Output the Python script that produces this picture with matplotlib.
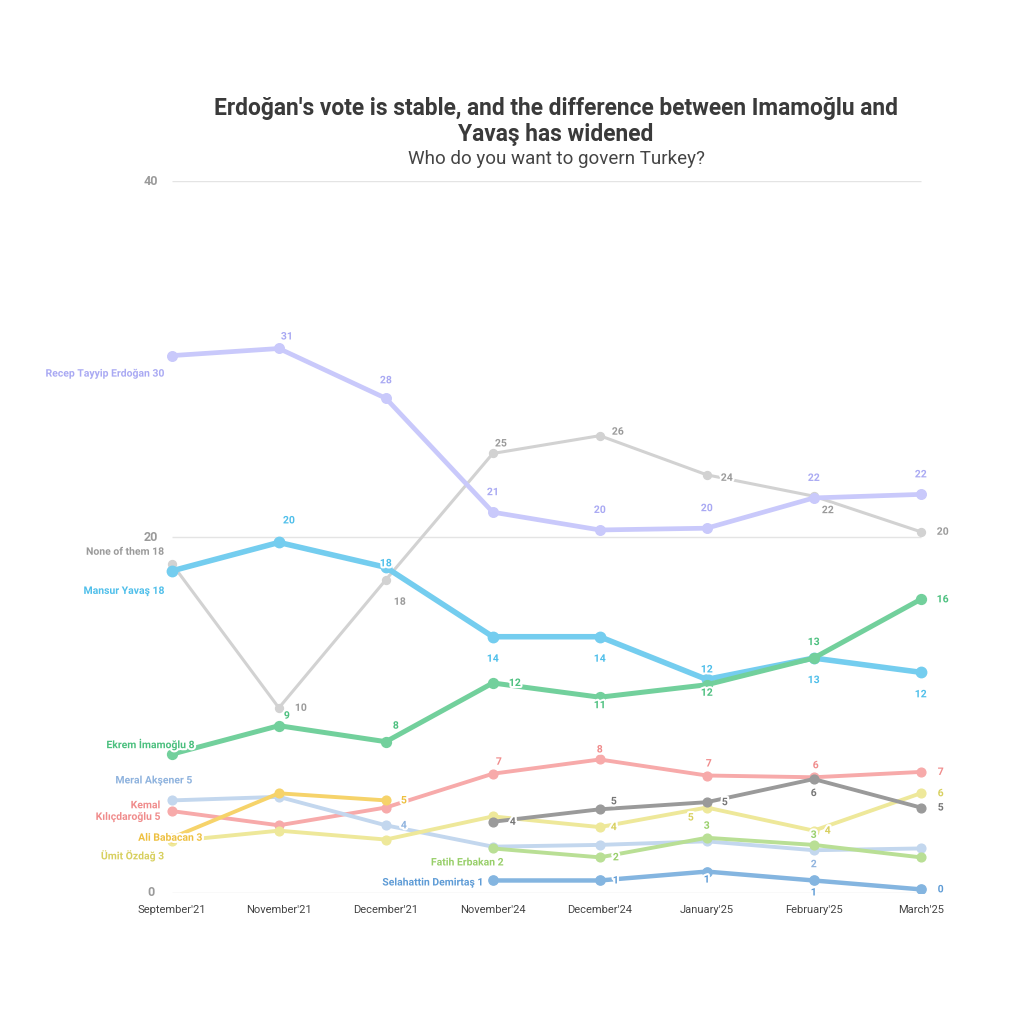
import numpy as np
import matplotlib
matplotlib.use("Agg")
import matplotlib.pyplot as plt
import matplotlib.patheffects as pe

plt.rcParams['font.family'] = ['Roboto', 'DejaVu Sans']

# x categories
months = ["September'21", "November'21", "December'21", "November'24",
          "December'24", "January'25", "February'25", "March'25"]
nan = np.nan

# series values (percent)
erdogan = [30.2, 30.6, 27.8, 21.4, 20.4, 20.5, 22.2, 22.4]
none_of_them = [18.5, 10.4, 17.6, 24.7, 25.7, 23.5, 22.3, 20.3]
yavas = [18.1, 19.7, 18.3, 14.4, 14.4, 12.0, 13.2, 12.4]
imamoglu = [7.8, 9.4, 8.5, 11.8, 11.0, 11.7, 13.2, 16.5]
aksener = [5.2, 5.4, 3.8, 2.6, 2.7, 2.9, 2.4, 2.5]
kilicdaroglu = [4.6, 3.8, 4.8, 6.7, 7.5, 6.6, 6.5, 6.8]
babacan = [3.1, 5.6, 5.2, nan, nan, nan, nan, nan]
ozdag = [2.9, 3.5, 3.0, 4.3, 3.7, 4.8, 3.5, 5.6]
ozel = [nan, nan, nan, 4.0, 4.7, 5.1, 6.4, 4.8]
erbakan = [nan, nan, nan, 2.5, 2.0, 3.1, 2.7, 2.0]
demirtas = [nan, nan, nan, 0.7, 0.7, 1.2, 0.7, 0.2]

# (name, values, line colour, text colour, line width)
series = [
    ("None of them", none_of_them, "#d2d2d2", "#9a9a9a", 2.2),
    ("Recep Tayyip Erdoğan", erdogan, "#c9c9fb", "#a9a9f3", 3.4),
    ("Mansur Yavaş", yavas, "#74cdef", "#4fbfea", 4.0),
    ("Ekrem İmamoğlu", imamoglu, "#72d09c", "#4cc07f", 3.6),
    ("Kemal\nKılıçdaroğlu", kilicdaroglu, "#f7aaaa", "#f08c8c", 2.8),
    ("Meral Akşener", aksener, "#c3d7ee", "#8fb3de", 2.8),
    ("Ümit Özdağ", ozdag, "#eee89a", "#d8d060", 2.8),
    ("Ali Babacan", babacan, "#f6d36a", "#eec040", 2.8),
    ("Özgür Özel", ozel, "#9a9a9a", "#777777", 2.8),
    ("Fatih Erbakan", erbakan, "#b9df95", "#98cf6a", 2.8),
    ("Selahattin Demirtaş", demirtas, "#84b5e0", "#5f9cd6", 3.2),
]

# name label placement: (x index, dx px, dy px, ha)
name_pos = {
    "None of them": (0, -8, 12, 'right'),
    "Recep Tayyip Erdoğan": (0, -8, -18, 'right'),
    "Mansur Yavaş": (0, -8, -20, 'right'),
    "Ekrem İmamoğlu": (0, 22, 10, 'right'),
    "Kemal\nKılıçdaroğlu": (0, -12, 0, 'right'),
    "Meral Akşener": (0, 20, 20, 'right'),
    "Ümit Özdağ": (0, -8, -14, 'right'),
    "Ali Babacan": (0, 30, 0, 'right'),
    "Fatih Erbakan": (3, 10, -14, 'right'),
    "Selahattin Demirtaş": (3, -10, -2, 'right'),
}

# value label offsets (dx, dy) in px per point
val_off = {
    "Recep Tayyip Erdoğan": [None, (8, 12), (0, 18), (0, 20), (0, 20), (0, 20), (0, 20), (0, 20)],
    "None of them": [None, (22, 0), (14, -22), (8, 10), (18, 4), (20, -3), (14, -14), (22, 0)],
    "Mansur Yavaş": [None, (10, 22), (0, 4), (0, -22), (0, -22), (0, 10), (0, -22), (0, -22)],
    "Ekrem İmamoğlu": [None, (8, 10), (10, 16), (22, 0), (0, -8), (0, -8), (0, 16), (22, 0)],
    "Kemal\nKılıçdaroğlu": [None, None, None, (6, 12), (0, 10), (2, 12), (2, 12), (20, 0)],
    "Meral Akşener": [None, None, (18, 0), None, None, None, (0, -14), None],
    "Ümit Özdağ": [None, None, None, None, (14, 0), (-16, -10), (14, 0), (20, 0)],
    "Ali Babacan": [None, None, (18, 0), None, None, None, None, None],
    "Özgür Özel": [None, None, None, (20, 0), (14, 8), (18, 0), (0, -14), (20, 0)],
    "Fatih Erbakan": [None, None, None, None, (16, 0), (0, 12), (0, 10), None],
    "Selahattin Demirtaş": [None, None, None, None, (16, 0), (0, -8), (0, -12), (20, 0)],
}

fig = plt.figure(figsize=(10.24, 10.24), dpi=100)
ax = fig.add_axes([0.147, 0.128, 0.773, 0.695])
x = np.arange(len(months))

halo = [pe.withStroke(linewidth=3, foreground='white')]

for y in [0, 20, 40]:
    ax.hlines(y, 0, 7, color='#e4e4e4', lw=1, zorder=0)
    ax.text(-0.2, y, str(y), ha='center', va='center', fontsize=9,
            color='#9a9a9a', fontweight='bold')

for name, vals, col, tcol, lw in series:
    v = np.array(vals, dtype=float)
    ax.plot(x, v, color=col, lw=lw, marker='o', ms=lw + 3.5,
            solid_capstyle='round', zorder=2)
    if name in name_pos:
        i, dx, dy, ha = name_pos[name]
        ax.annotate(f"{name} {round(v[i]):d}", (x[i], v[i]), xytext=(dx, dy),
                    textcoords='offset pixels', ha=ha, va='center',
                    fontsize=7.5, color=tcol, fontweight='bold',
                    path_effects=halo, annotation_clip=False, zorder=4)
    for i, off in enumerate(val_off.get(name, [])):
        if off is None or np.isnan(v[i]):
            continue
        ax.annotate(f"{round(v[i]):d}", (x[i], v[i]), xytext=off,
                    textcoords='offset pixels', ha='center', va='center',
                    fontsize=7.5, color=tcol, fontweight='bold',
                    path_effects=halo, annotation_clip=False, zorder=4)

ax.set_xlim(-0.2, 7.2)
ax.set_ylim(0, 40)
ax.set_xticks(x)
ax.set_xticklabels(months, fontsize=8, color='#444444')
ax.tick_params(axis='x', length=0, pad=9)
ax.set_yticks([])
for s in ax.spines.values():
    s.set_visible(False)

fig.text(0.543, 0.8945, "Erdoğan's vote is stable, and the difference between Imamoğlu and",
         ha='center', va='center', fontsize=16.4, fontweight='bold', color='#3a3a3a')
fig.text(0.543, 0.869, "Yavaş has widened",
         ha='center', va='center', fontsize=16.4, fontweight='bold', color='#3a3a3a')
fig.text(0.543, 0.8447, "Who do you want to govern Turkey?", ha='center', va='center',
         fontsize=13.5, color='#444444')

fig.savefig('out.png', dpi=100, facecolor='white')
